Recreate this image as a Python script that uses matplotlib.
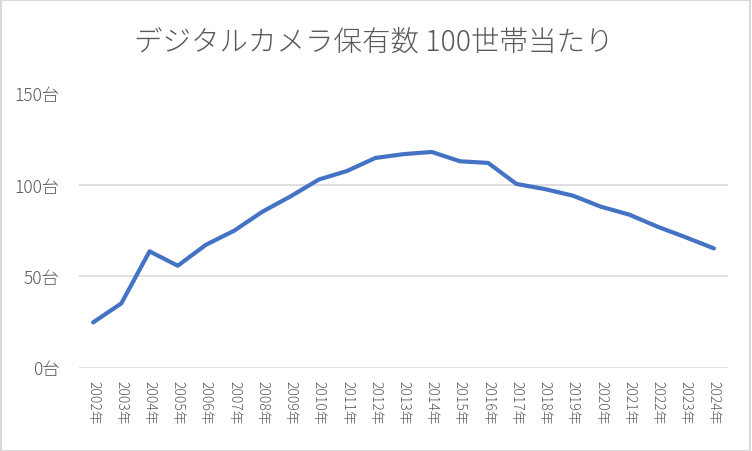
import matplotlib
matplotlib.use("Agg")
import matplotlib.pyplot as plt
from matplotlib.patches import Rectangle

plt.rcParams['font.family'] = ['Noto Sans CJK JP', 'DejaVu Sans']

years = [f"{y}年" for y in range(2002, 2025)]
values = [24.7, 35.1, 63.6, 55.7, 67.2, 74.9, 85.3, 93.7, 102.9, 107.6, 114.7,
          116.8, 118.0, 112.9, 112.0, 100.5, 97.7, 94.1, 88.0, 83.7, 77.1, 71.3, 65.2]
yticks = [0, 50, 100, 150]
ytick_labels = [f"{v}台" for v in yticks]
title = "デジタルカメラ保有数 100世帯当たり"

fig = plt.figure(figsize=(7.52, 4.52), dpi=100)
ax = fig.add_axes([79/752, 1 - 368.5/452, (728-79)/752, (368.5-94.5)/452])

x = list(range(len(years)))
ax.plot(x, values, color='#4472C4', linewidth=3.0, solid_capstyle='round', solid_joinstyle='round')
ax.set_xlim(-0.5, len(years) - 0.5)
ax.set_ylim(0, 150)
ax.set_yticks(yticks)
ax.set_yticklabels(ytick_labels, fontsize=12.5, color='#595959', fontweight='light')
ax.set_xticks(x)
ax.set_xticklabels(years, rotation=270, fontsize=10, color='#595959', fontweight='light')
ax.tick_params(axis='both', length=0)
ax.tick_params(axis='y', pad=14)
ax.tick_params(axis='x', pad=9)
ax.grid(axis='y', color='#d9d9d9', linewidth=1.2)
ax.set_axisbelow(True)
for s in ax.spines.values():
    s.set_visible(False)

fig.text(374/752, 1 - 42/452, title, ha='center', va='center', fontsize=20.5,
         color='#595959', fontweight='light')
fig.patches.append(Rectangle((0.001, 0.001), 0.997, 0.996, transform=fig.transFigure,
                             fill=False, edgecolor='#d9d9d9', linewidth=1.5))

fig.savefig('out.png', dpi=100)
